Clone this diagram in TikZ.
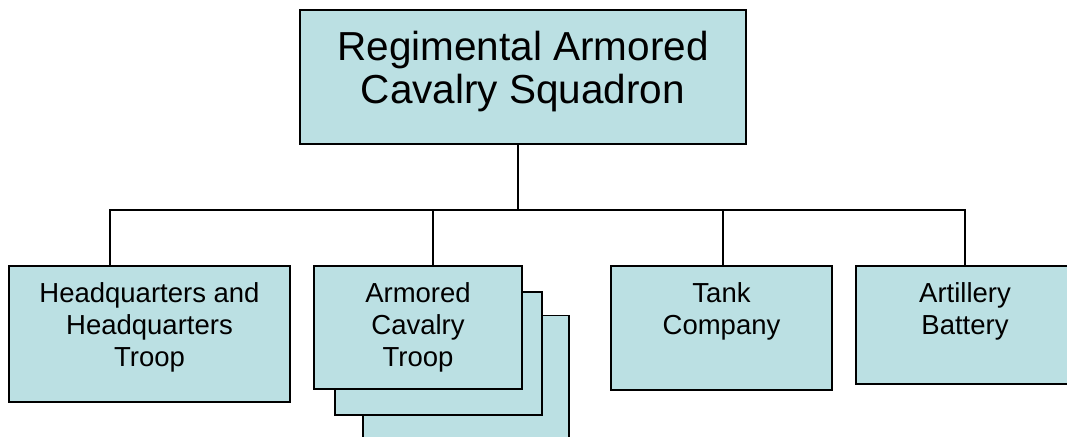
\documentclass[tikz,border=0pt]{standalone}
\usepackage{fontspec}
\setmainfont{Liberation Sans}
\usepackage{xcolor}
\usetikzlibrary{positioning,calc}
\definecolor{boxcyan}{RGB}{187,224,227}
% width, height, first baseline, text
\newcommand{\unittext}[4]{\parbox[c][#2][t]{#1}{\centering\rule{0pt}{#3}#4}}

\begin{document}
\begin{tikzpicture}[x=1pt,y=-1pt,
  unit/.style={draw=black,line width=1.6pt,fill=boxcyan,inner sep=0pt,
               font=\fontsize{27.5}{32}\selectfont},
  link/.style={draw=black,line width=1.6pt}]
\useasboundingbox (0,0) rectangle (1067,436);
% squadron
\node[unit,font=\fontsize{40.5}{43.5}\selectfont] (sqdn) at (523,77)
  {\unittext{446pt}{134pt}{50pt}{Regimental Armored\\Cavalry Squadron}};

% troops and companies
\node[unit] (hq) at (149.5,334)
  {\unittext{281pt}{136pt}{36pt}{Headquarters and\\Headquarters\\Troop}};
\node[unit,minimum width=206pt,minimum height=123pt] (act3) at (466,377) {};
\node[unit,minimum width=207pt,minimum height=123pt] (act2) at (438.5,353.5) {};
\node[unit] (act) at (418,327.5)
  {\unittext{208pt}{123pt}{36pt}{Armored\\Cavalry\\Troop}};
\node[unit] (tank) at (721.5,328)
  {\unittext{221pt}{124pt}{36pt}{Tank\\Company}};
\node[unit] (art) at (965,325)
  {\unittext{218pt}{118pt}{36pt}{Artillery\\Battery}};

% bus
\coordinate (hub) at (518,210);
\coordinate (jhq) at (110,210);
\coordinate (jact) at (433,210);
\coordinate (jtank) at (723,210);
\coordinate (jart) at (965,210);
\draw[link] (hub |- sqdn.south) -- (hub);
\draw[link] (jhq |- hq.north) -- (jhq) -- (jart) -- (jart |- art.north);
\draw[link] (jact) -- (jact |- act.north);
\draw[link] (jtank) -- (jtank |- tank.north);
\end{tikzpicture}
\end{document}
